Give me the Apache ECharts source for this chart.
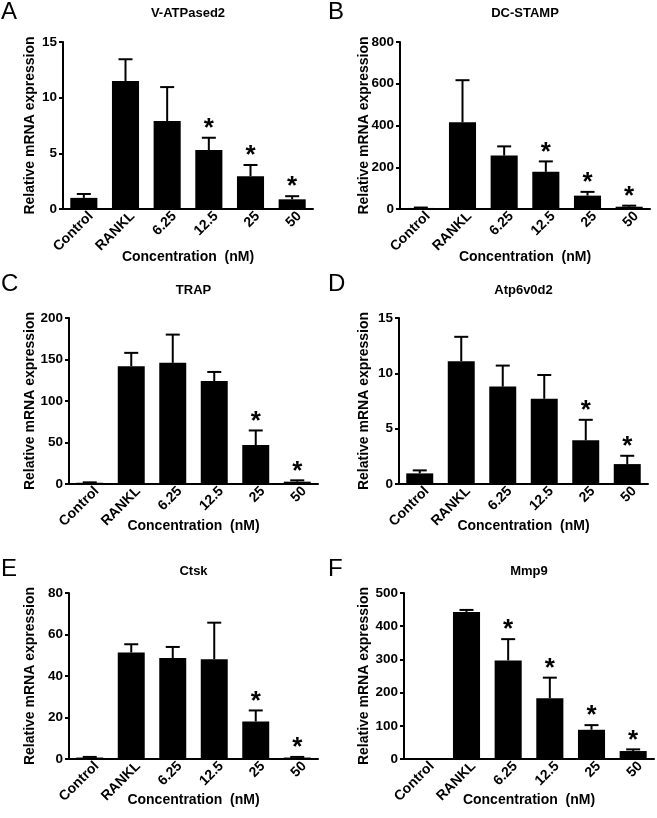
<!DOCTYPE html>
<html><head><meta charset="utf-8">
<script src="https://cdn.jsdelivr.net/npm/echarts@6/dist/echarts.min.js"></script>
<style>html,body{margin:0;padding:0;background:#fff}#c{width:657px;height:818px}</style>
</head><body><div id="c"></div>
<script>
// ---------- data ----------
const categories = ['Control', 'RANKL', '6.25', '12.5', '25', '50'];
const titles = ['V-ATPased2', 'DC-STAMP', 'TRAP', 'Atp6v0d2', 'Ctsk', 'Mmp9'];
const panelLetters = ['A', 'B', 'C', 'D', 'E', 'F'];
const yAxisName = 'Relative mRNA expression';
const xAxisName = 'Concentration  (nM)';

const vatpMean = [1.0, 11.5, 7.9, 5.3, 2.95, 0.87];
const vatpUpper = [1.35, 13.45, 10.95, 6.4, 3.95, 1.15];
const vatpStar = [0, 0, 0, 1, 1, 1];

const dcMean = [5, 415, 256, 178, 64, 11];
const dcUpper = [7, 617, 300, 228, 82, 16];
const dcStar = [0, 0, 0, 1, 1, 1];

const trapMean = [1.5, 142, 146, 124, 47, 2.8];
const trapUpper = [2, 158, 180, 135, 64.5, 4.4];
const trapStar = [0, 0, 0, 0, 1, 1];

const atpMean = [0.96, 11.1, 8.8, 7.7, 3.95, 1.8];
const atpUpper = [1.23, 13.3, 10.7, 9.85, 5.8, 2.55];
const atpStar = [0, 0, 0, 0, 1, 1];

const ctskMean = [0.7, 51.3, 48.7, 48.1, 18.1, 0.7];
const ctskUpper = [1.0, 55.3, 54, 65.7, 23.4, 1.0];
const ctskStar = [0, 0, 0, 0, 1, 1];

const mmpMean = [0, 443, 297, 183, 88, 24];
const mmpUpper = [0, 449, 361, 245, 102, 29];
const mmpStar = [0, 0, 1, 1, 1, 1];

const yMax = [15, 800, 200, 15, 80, 500];
const yStep = [5, 200, 50, 5, 20, 100];

// ---------- layout ----------
const FONT = '"Liberation Sans", Arial, Helvetica, sans-serif';
const panels = [
  {mean: vatpMean, upper: vatpUpper, star: vatpStar},
  {mean: dcMean, upper: dcUpper, star: dcStar},
  {mean: trapMean, upper: trapUpper, star: trapStar},
  {mean: atpMean, upper: atpUpper, star: atpStar},
  {mean: ctskMean, upper: ctskUpper, star: ctskStar},
  {mean: mmpMean, upper: mmpUpper, star: mmpStar}
];
const layout = [
  {left: 63, top: 42, width: 250, height: 167, xGap: 41, titleTop: 7, letterX: 1, letterY: 0},
  {left: 400, top: 42, width: 250, height: 167, xGap: 41, titleTop: 7, letterX: 328, letterY: 0},
  {left: 69, top: 318, width: 249, height: 166, xGap: 35, titleTop: 284, letterX: 1, letterY: 272},
  {left: 399, top: 318, width: 249, height: 166, xGap: 35, titleTop: 284, letterX: 328, letterY: 272},
  {left: 69, top: 593, width: 249, height: 166, xGap: 34, titleTop: 565, letterX: 1, letterY: 557},
  {left: 404, top: 593, width: 250, height: 166, xGap: 34, titleTop: 565, letterX: 328, letterY: 557}
];

function errRender(params, api) {
  const i = api.value(0);
  const mean = api.value(1);
  const up = api.value(2);
  const star = api.value(3);
  const pTop = api.coord([i, up]);
  const pBase = api.coord([i, mean]);
  const children = [];
  if (up > mean) {
    children.push({type: 'line', shape: {x1: pTop[0], y1: pBase[1], x2: pTop[0], y2: pTop[1]},
      style: {stroke: '#000', lineWidth: 2}});
    children.push({type: 'line', shape: {x1: pTop[0] - 7, y1: pTop[1], x2: pTop[0] + 7, y2: pTop[1]},
      style: {stroke: '#000', lineWidth: 2}});
  }
  if (star) {
    children.push({type: 'text', x: pTop[0], y: pTop[1] - 9,
      style: {text: '*', fill: '#000', fontSize: 26, fontWeight: 'bold', fontFamily: FONT,
        align: 'center', verticalAlign: 'middle', textAlign: 'center', textVerticalAlign: 'middle'}});
  }
  return {type: 'group', children: children};
}

const grid = [], xAxis = [], yAxis = [], series = [], title = [], graphic = [];
panels.forEach((p, k) => {
  const L = layout[k];
  grid.push({left: L.left, top: L.top, width: L.width, height: L.height, containLabel: false});
  title.push({text: titles[k], left: L.left + L.width / 2, top: L.titleTop, textAlign: 'center', padding: 0,
    textStyle: {fontSize: 13, fontWeight: 'bold', color: '#000', fontFamily: FONT}});
  graphic.push({type: 'text', left: L.letterX, top: L.letterY,
    style: {text: panelLetters[k], fontSize: 24, fontFamily: FONT, fill: '#000'}});
  xAxis.push({type: 'category', gridIndex: k, data: categories,
    axisLine: {lineStyle: {color: '#000', width: 2}},
    axisTick: {alignWithLabel: true, length: 5, lineStyle: {color: '#000', width: 2}},
    axisLabel: {rotate: 45, interval: 0, color: '#000', fontWeight: 'bold', fontSize: 14, margin: 12,
      padding: [8, -10, 0, 0], fontFamily: FONT},
    name: xAxisName, nameLocation: 'middle', nameGap: L.xGap, nameMoveOverlap: false,
    nameTextStyle: {color: '#000', fontWeight: 'bold', fontSize: 14, fontFamily: FONT}});
  yAxis.push({type: 'value', gridIndex: k, min: 0, max: yMax[k], interval: yStep[k],
    axisLine: {show: true, lineStyle: {color: '#000', width: 2}},
    axisTick: {show: true, length: 4, lineStyle: {color: '#000', width: 2}},
    splitLine: {show: false},
    axisLabel: {color: '#000', fontWeight: 'bold', fontSize: 13.5, margin: 6, fontFamily: FONT},
    name: yAxisName, nameLocation: 'middle', nameGap: L.left - (k % 2 ? 371 : 37), nameMoveOverlap: false,
    nameTextStyle: {color: '#000', fontWeight: 'bold', fontSize: 14, fontFamily: FONT}});
  series.push({type: 'bar', xAxisIndex: k, yAxisIndex: k, data: p.mean, barWidth: '65%',
    itemStyle: {color: '#000'}, animation: false, silent: true});
  series.push({type: 'custom', xAxisIndex: k, yAxisIndex: k, renderItem: errRender, clip: false,
    data: categories.map((c, i) => [i, p.mean[i], p.upper[i], p.star[i]]), z: 3, animation: false, silent: true});
});

const chart = echarts.init(document.getElementById('c'), null, {renderer: 'canvas'});
chart.setOption({backgroundColor: '#fff', animation: false, title, grid, xAxis, yAxis, series, graphic});
</script>
</body></html>
